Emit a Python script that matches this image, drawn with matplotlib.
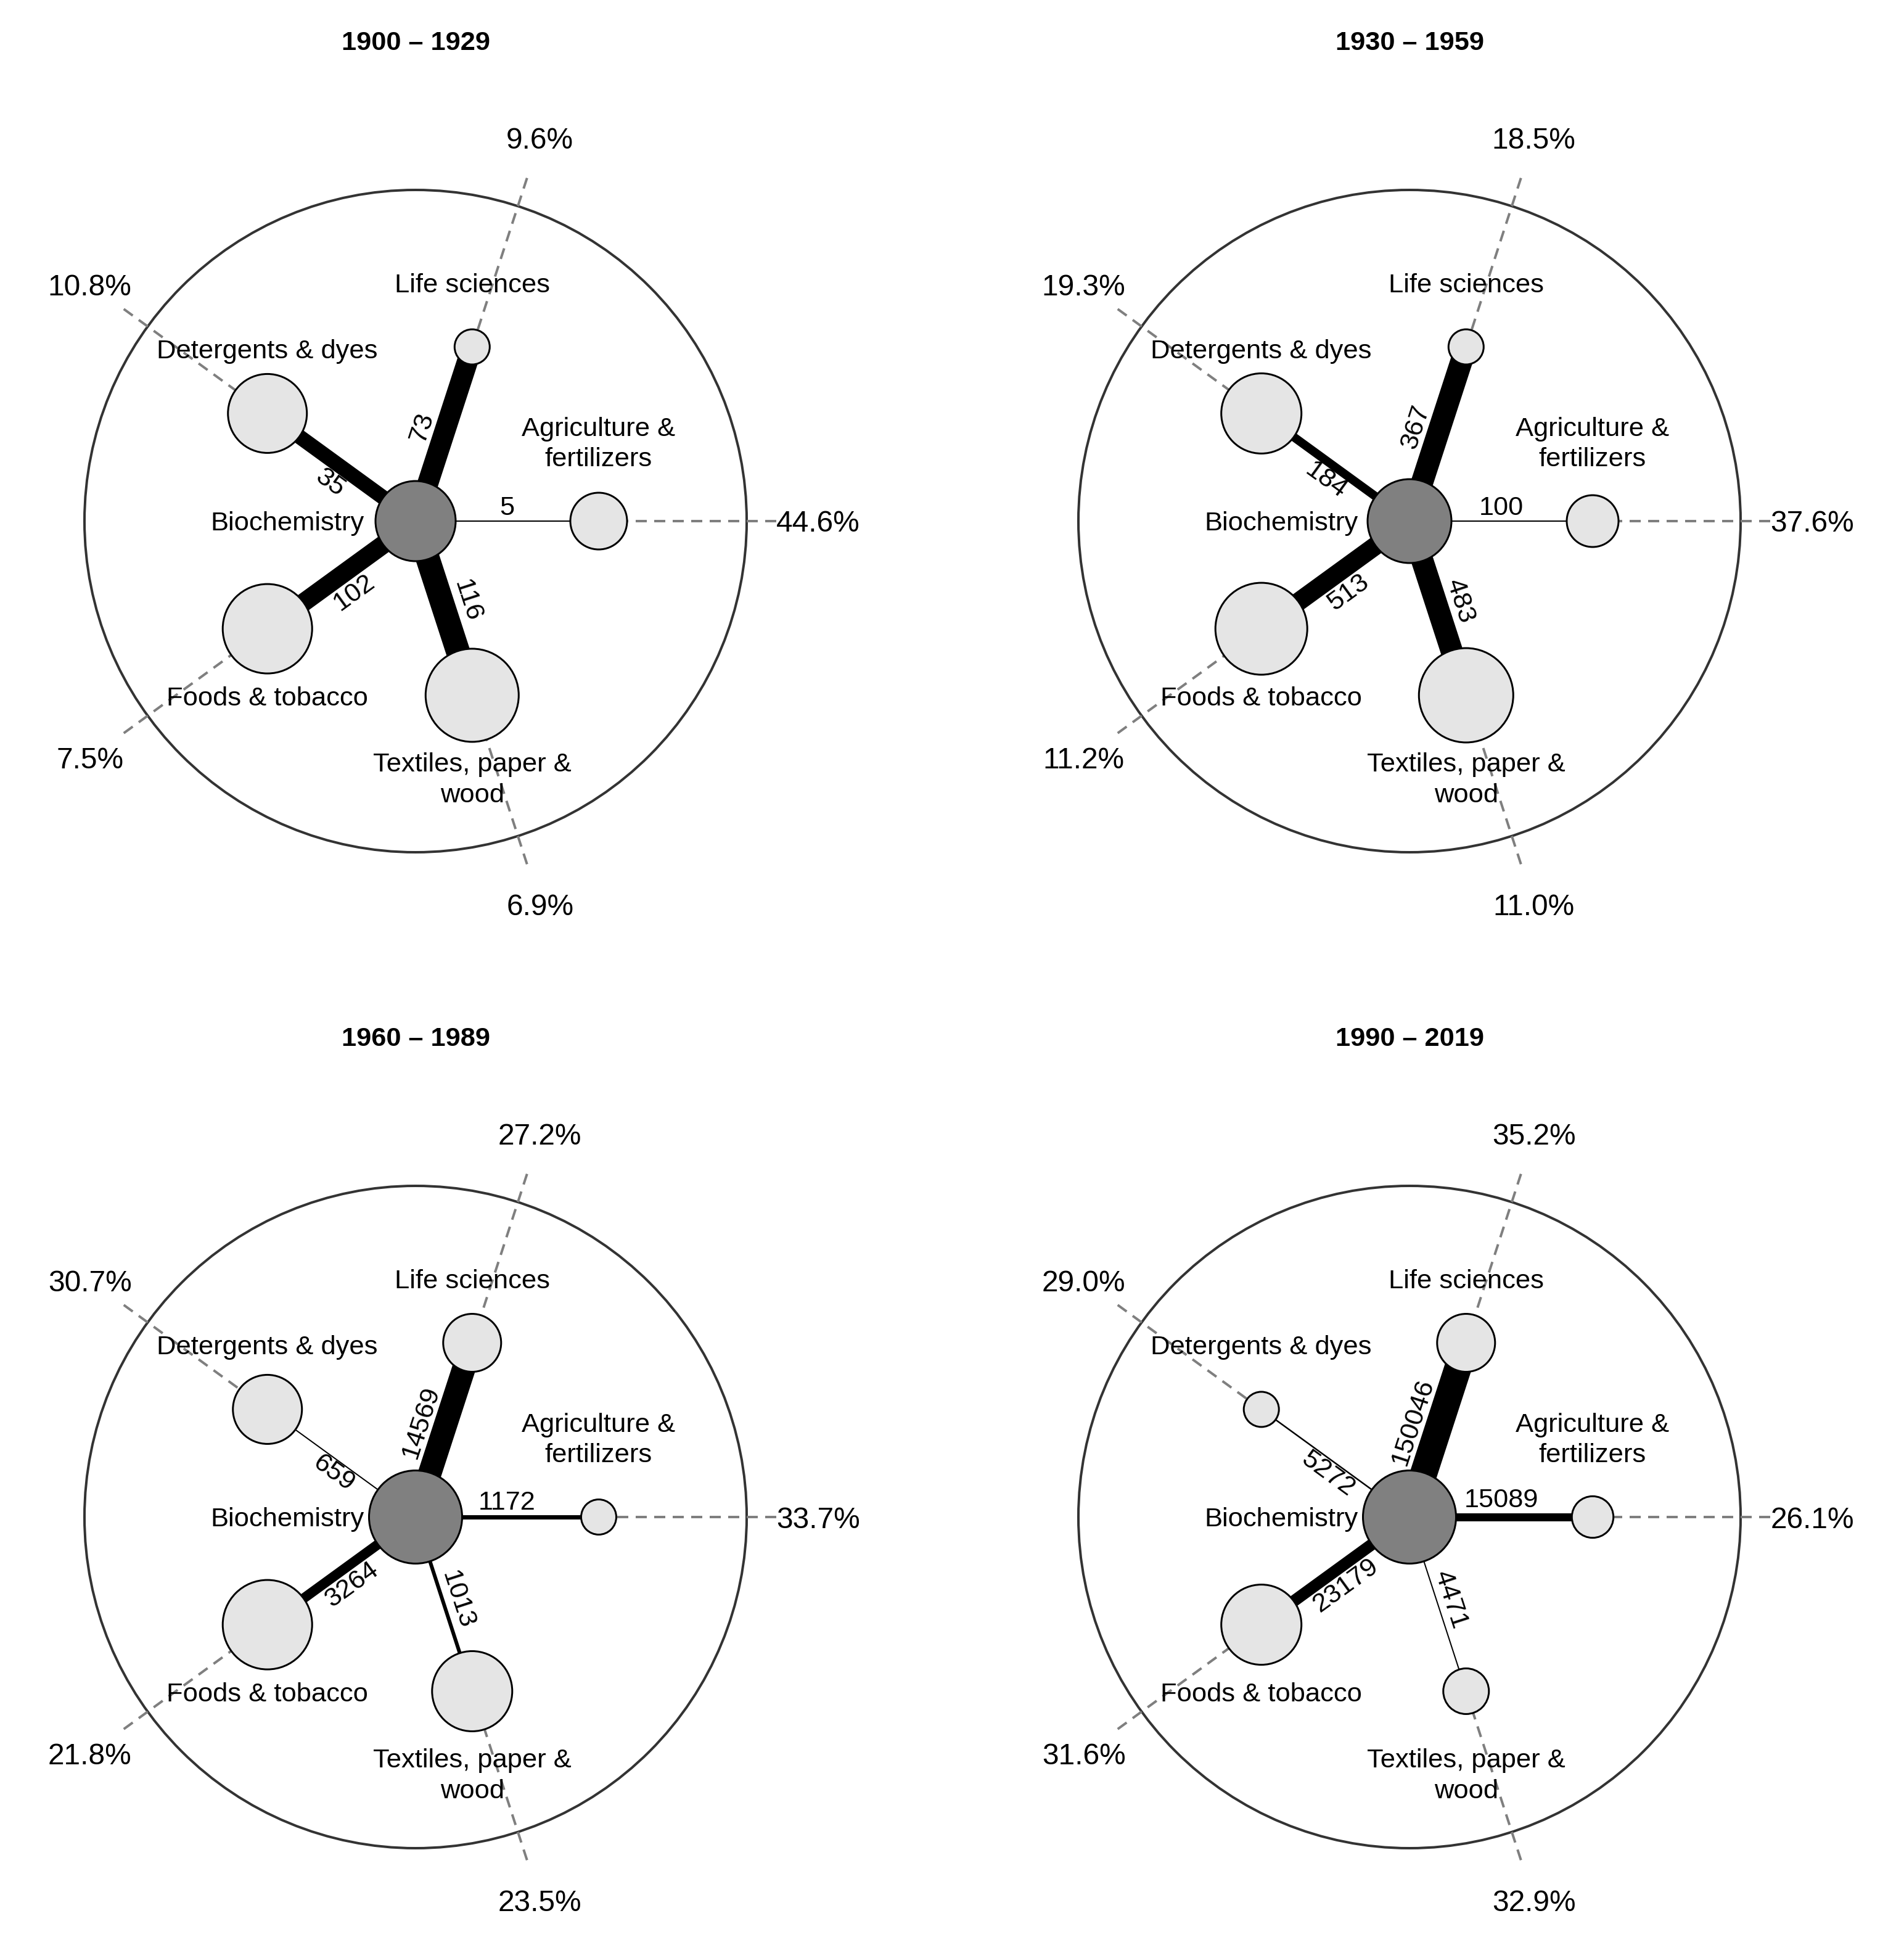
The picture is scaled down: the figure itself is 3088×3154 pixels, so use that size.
import numpy as np
import matplotlib
matplotlib.use("Agg")
import matplotlib.pyplot as plt
from matplotlib.patches import Circle

plt.rcParams['font.family'] = ['Liberation Sans', 'DejaVu Sans']

# ---- data ----
periods = ["1900 – 1929", "1930 – 1959", "1960 – 1989", "1990 – 2019"]
hub = "Biochemistry"
fields = ["Agriculture &\nfertilizers", "Life sciences", "Detergents & dyes",
          "Foods & tobacco", "Textiles, paper &\nwood"]

# links between biochemistry and each field
links_1900 = [5, 73, 35, 102, 116]
links_1930 = [100, 367, 184, 513, 483]
links_1960 = [1172, 14569, 659, 3264, 1013]
links_1990 = [15089, 150046, 5272, 23179, 4471]

# share of field output (percent)
share_1900 = [44.6, 9.6, 10.8, 7.5, 6.9]
share_1930 = [37.6, 18.5, 19.3, 11.2, 11.0]
share_1960 = [33.7, 27.2, 30.7, 21.8, 23.5]
share_1990 = [26.1, 35.2, 29.0, 31.6, 32.9]

# node size (radius, px) and edge weight (px) as drawn
node_1900 = [46, 28.5, 64, 72.5, 75.5]
node_1930 = [42, 28.5, 65, 74.5, 76.5]
node_1960 = [28.5, 47, 56, 72.5, 65]
node_1990 = [33.7, 47, 28.5, 65, 37]
hub_node = [65, 68, 75.5, 75.5]

weight_1900 = [2, 34, 24, 30, 39]
weight_1930 = [2, 36, 14, 30, 36]
weight_1960 = [7, 38, 2, 16, 6]
weight_1990 = [13, 44, 2.5, 19, 2]

# ---- layout ----
W, H, DPI = 3088, 3154, 300
PT = 72 / DPI
centers = [(674, 845), (2286, 845), (674, 2460), (2286, 2460)]
HALF = 800
RING = 297
OUTER = 537
DASH_END = 595
PCT_R = 653
angles = np.deg2rad([0, 72, 144, 216, 288])

fig = plt.figure(figsize=(W / DPI, H / DPI), dpi=DPI)


def draw_panel(ax, title, links, shares, sizes, hub_r, weights):
    ax.set_xlim(-HALF, HALF)
    ax.set_ylim(-HALF, HALF)
    ax.axis("off")

    ax.add_patch(Circle((0, 0), OUTER, fill=False, ec="#333333", lw=4 * PT, zorder=1))
    ax.text(0, 775, title, ha="center", va="center", fontsize=10.4, fontweight="bold")

    for i, a in enumerate(angles):
        ux, uy = np.cos(a), np.sin(a)
        nx, ny = RING * ux, RING * uy

        # dashed guide to the share label
        ax.plot([nx, DASH_END * ux], [ny, DASH_END * uy], color="#7f7f7f",
                lw=4 * PT, dashes=(4.5, 3), zorder=2)
        ax.text(PCT_R * ux, PCT_R * uy - 5, f"{shares[i]:.1f}%", ha="center",
                va="center", fontsize=11.5)

        # link
        ax.plot([0, nx], [0, ny], color="black", lw=weights[i] * PT,
                solid_capstyle="butt", zorder=3)
        rot = np.rad2deg(a)
        if rot > 90 and rot <= 270:
            rot -= 180
        elif rot > 270:
            rot -= 360
        off = 20 + weights[i] / 2
        px, py = -np.sin(a) * off, np.cos(a) * off
        ax.text(nx / 2 + px, ny / 2 + py, str(links[i]), ha="center", va="center",
                rotation=rot, rotation_mode="anchor", fontsize=10.4, zorder=6)

        ax.add_patch(Circle((nx, ny), sizes[i], fc="#e5e5e5", ec="black",
                            lw=3 * PT, zorder=4))
        if uy >= -0.01:
            ax.text(nx, ny + 80, fields[i], ha="center", va="bottom",
                    fontsize=10.45, linespacing=1.3, zorder=6)
        else:
            ax.text(nx, ny - 93, fields[i], ha="center", va="top",
                    fontsize=10.45, linespacing=1.3, zorder=6)

    ax.add_patch(Circle((0, 0), hub_r, fc="#808080", ec="black", lw=3 * PT, zorder=5))
    ax.text(-83, -4, hub, ha="right", va="center", fontsize=10.45, zorder=6)


all_links = [links_1900, links_1930, links_1960, links_1990]
all_share = [share_1900, share_1930, share_1960, share_1990]
all_nodes = [node_1900, node_1930, node_1960, node_1990]
all_weights = [weight_1900, weight_1930, weight_1960, weight_1990]

for k, (cx, cy) in enumerate(centers):
    rect = [(cx - HALF) / W, (H - cy - HALF) / H, 2 * HALF / W, 2 * HALF / H]
    ax = fig.add_axes(rect)
    draw_panel(ax, periods[k], all_links[k], all_share[k], all_nodes[k],
               hub_node[k], all_weights[k])

fig.savefig("out.png", dpi=DPI, facecolor="white")
